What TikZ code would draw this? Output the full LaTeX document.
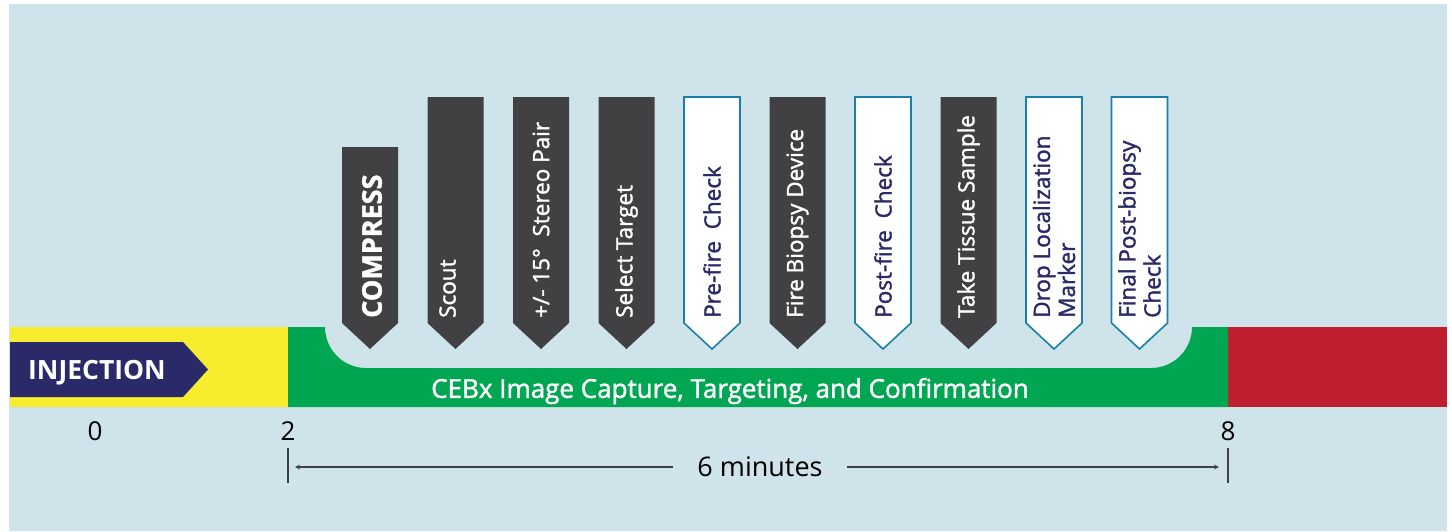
\documentclass[tikz,border=0pt]{standalone}
\usepackage{fontspec}
\setmainfont{Open Sans}
\newfontfamily\medfont[FakeBold=1.6]{Open Sans}
\definecolor{bgblue}{HTML}{CFE3EB}
\definecolor{injyellow}{HTML}{F7EC2E}
\definecolor{capgreen}{HTML}{00A651}
\definecolor{endred}{HTML}{BE1E2D}
\definecolor{navy}{HTML}{2B2A68}
\definecolor{slate}{HTML}{414042}
\definecolor{edgeblue}{HTML}{1C7FA8}
\begin{document}
\begin{tikzpicture}[
    x=1pt, y=-1pt,
    darkflag/.style={fill=slate},
    lightflag/.style={fill=white, draw=edgeblue, line width=1.6pt},
    flagtext/.style={rotate=90, anchor=west, inner sep=0pt, align=left,
        font=\fontsize{22.5}{25}\medfont},
    tickno/.style={font=\fontsize{26}{30}\selectfont},
    dimline/.style={draw=black!75, line width=1.2pt}
]
\useasboundingbox (0,0) rectangle (1452,531);
\fill[bgblue] (9,4) rectangle (1447,531);
% time band
\fill[injyellow] (10,327) rectangle (288,407);
\fill[endred] (1228,327) rectangle (1447,407);
\fill[capgreen] (288,327) -- (325,327) {[rounded corners=41pt] -- (325,368)
    -- (1192,368)} -- (1192,327) -- (1228,327) -- (1228,407) -- (288,407) -- cycle;
\fill[navy] (10,342) -- (183,342) -- (208,369.5) -- (183,397) -- (10,397) -- cycle;
\node[text=white, font=\fontsize{26.5}{30}\selectfont\bfseries] (inj) at (97,373) {INJECTION};
\node[text=white, font=\fontsize{26}{30}\medfont] (ceb) at (730,391)
    {CEBx Image Capture, Targeting, and Confirmation};
% steps
\foreach \i/\t/\s/\c/\dx/\txt in {
    0/147/darkflag/white/2/{\fontsize{27}{32}\selectfont\bfseries COMPRESS},
    1/97/darkflag/white/-8/Scout,
    2/97/darkflag/white/0/{+/-\ 15°\ \ Stereo Pair},
    3/97/darkflag/white/0/Select Target,
    4/97/lightflag/navy/0/{Pre-fire\ \ Check},
    5/97/darkflag/white/0/Fire Biopsy Device,
    6/97/lightflag/navy/0/{Post-fire\ \ Check},
    7/97/darkflag/white/0/Take Tissue Sample,
    8/97/lightflag/navy/0/{Drop Localization\\Marker},
    9/97/lightflag/navy/0/{Final Post-biopsy\\Check}} {
    \path[\s] (342+85.5*\i,\t) -- (398+85.5*\i,\t) -- (398+85.5*\i,323)
        -- (370+85.5*\i,349) -- (342+85.5*\i,323) -- cycle;
    \node[flagtext, text=\c] (step\i) at (370+85.5*\i+\dx,318) {\txt};
}
% minutes scale
\node[tickno] (n0) at (95,431) {0};
\node[tickno] (n2) at (288,431) {2};
\node[tickno] (n8) at (1228,431) {8};
\draw[black!75, line width=1.2pt] (288,448) -- (288,483);
\draw[black!75, line width=1.2pt] (1228,448) -- (1228,483);
\coordinate (left) at (295,467);
\coordinate (right) at (1219,467);
\node[font=\fontsize{27}{30}\selectfont, inner xsep=24pt] (span) at (760,467) {6 minutes};
\draw[dimline, -stealth] (span.west) -- (left);
\draw[dimline, -stealth] (span.east) -- (right);
\end{tikzpicture}
\end{document}
